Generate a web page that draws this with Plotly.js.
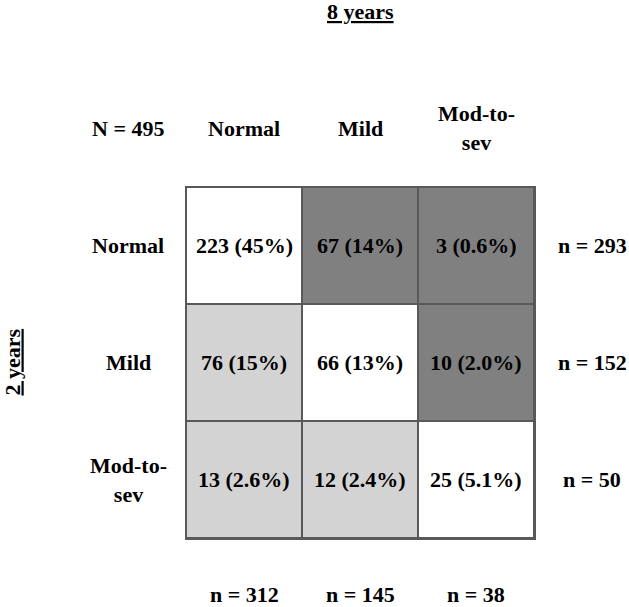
<!DOCTYPE html>
<html>
<head>
<meta charset="utf-8">
<script src="https://cdn.plot.ly/plotly-3.0.1.min.js"></script>
<style>
  html, body { margin: 0; padding: 0; background: #fff; }
  #chart { width: 629px; height: 607px; }
</style>
</head>
<body>
<div id="chart"></div>
<script>
// Categories (2 years = rows, 8 years = columns)
const categories = ['Normal', 'Mild', 'Mod-to-<br>sev'];

// Counts and percentages per cell
const counts = [
    [223, 67, 3],
    [76, 66, 10],
    [13, 12, 25]
];
const pcts = [
    ['45%', '14%', '0.6%'],
    ['15%', '13%', '2.0%'],
    ['2.6%', '2.4%', '5.1%']
];

// Shading: 0 = same, 1 = improved, 2 = worsened
const shade = [
    [0, 2, 2],
    [1, 0, 2],
    [1, 1, 0]
];

const rowTotals = [293, 152, 50];
const colTotals = [312, 145, 38];
const totalN = 495;

const font = { family: 'Liberation Serif, Times New Roman, serif', size: 22, color: '#000', weight: 'bold' };

// Convert a grid position (column, row) to paper coordinates
function px(col) { return (col + 0.5) / 3; }
function py(row) { return (2.5 - row) / 3; }

const annotations = [];
function label(col, row, text, extra) {
    annotations.push(Object.assign({
        xref: 'paper', yref: 'paper',
        x: px(col), y: py(row),
        text: text, showarrow: false,
        xanchor: 'center', yanchor: 'middle',
        borderpad: 0,
        font: font
    }, extra || {}));
}

// Cell texts
for (let r = 0; r < 3; r++) {
    for (let c = 0; c < 3; c++) {
        label(c, r, `${counts[r][c]} (${pcts[r][c]})`);
    }
}
// Column headers and row labels
categories.forEach((cat, i) => {
    label(i, -1, cat);
    label(-1, i, cat);
    label(3, i, `n = ${rowTotals[i]}`);
    label(i, 3, `n = ${colTotals[i]}`, { yshift: 2 });
});
label(-1, -1, `N = ${totalN}`);

// Axis titles
label(1, -2, '8 years', { font: Object.assign({}, font, { lineposition: 'under' }) });
label(-2, 1, '2 years', { textangle: -90, font: Object.assign({}, font, { lineposition: 'under' }) });

const trace = {
    type: 'heatmap',
    z: shade,
    x: [0, 1, 2],
    y: [0, 1, 2],
    zmin: 0, zmax: 2,
    colorscale: [[0, '#ffffff'], [0.5, '#d3d3d3'], [1, '#808080']],
    showscale: false,
    xgap: 2, ygap: 2,
    hoverinfo: 'skip'
};

const axisStyle = {
    showgrid: false, zeroline: false,
    showticklabels: false, ticks: '',
    showline: true, mirror: true,
    linecolor: '#595959', linewidth: 1.5
};

const layout = {
    width: 629, height: 607,
    paper_bgcolor: '#ffffff',
    plot_bgcolor: '#595959',
    margin: { l: 186, r: 95, t: 187, b: 69 },
    xaxis: Object.assign({ range: [-0.5, 2.5] }, axisStyle),
    yaxis: Object.assign({ range: [2.5, -0.5] }, axisStyle),
    annotations: annotations,
    showlegend: false
};

Plotly.newPlot('chart', [trace], layout, { displayModeBar: false, staticPlot: true });
</script>
</body>
</html>
